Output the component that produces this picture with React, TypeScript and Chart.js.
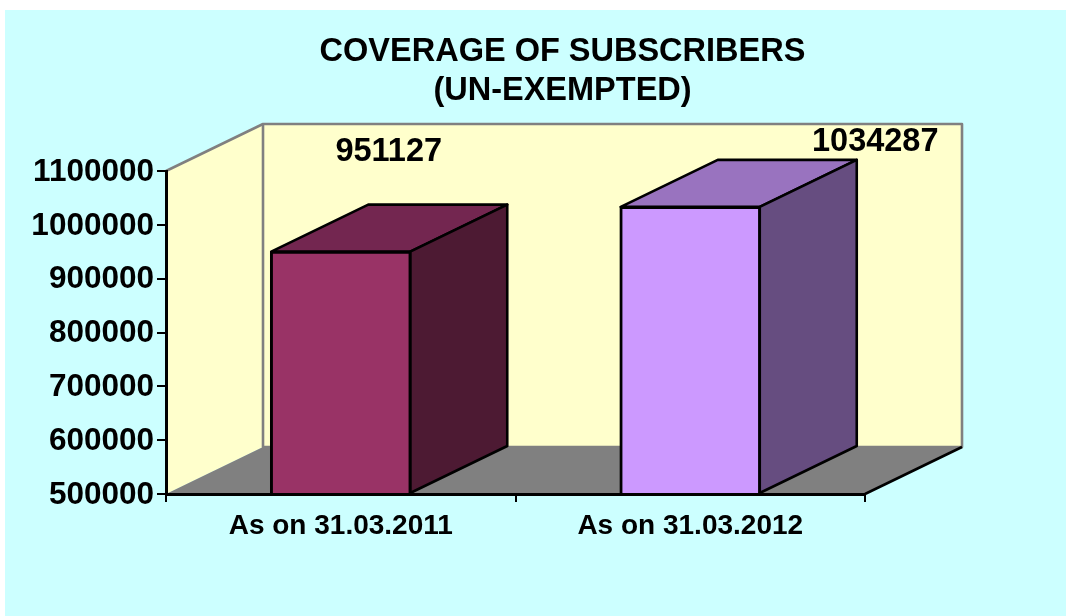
import React, { useEffect, useRef } from "react";
import { Chart, registerables } from "chart.js";

Chart.register(...registerables);

const categories = ["As on 31.03.2011", "As on 31.03.2012"];
const subscribers = [951127, 1034287];
const frontColors = ["#993366", "#CC99FF"];
const topColors = ["#732650", "#9973BF"];
const sideColors = ["#4D1A33", "#664D80"];
const titleLines = ["COVERAGE OF SUBSCRIBERS", "(UN-EXEMPTED)"];
const axisMin = 500000;
const axisMax = 1100000;
const axisStep = 100000;

const FONT = "'Liberation Sans', Arial, Helvetica, sans-serif";
const DEPTH_X = 97;
const DEPTH_Y = -47;
const WIDTH = 1066;
const HEIGHT = 616;
const CYAN = "#CCFFFF";
const WALL = "#FFFFCC";
const GREY = "#808080";
const LINE = 2.6;
// label shift from each bar's top-centre, as placed by hand in the original
const labelShiftX = [48, 185];
const labelShiftY = [-99, -64];

function poly(ctx: CanvasRenderingContext2D, pts: number[][], fill: string | null, stroke: string | null, lw = LINE) {
  ctx.beginPath();
  pts.forEach((p, i) => (i ? ctx.lineTo(p[0], p[1]) : ctx.moveTo(p[0], p[1])));
  ctx.closePath();
  if (fill) {
    ctx.fillStyle = fill;
    ctx.fill();
  }
  if (stroke) {
    ctx.strokeStyle = stroke;
    ctx.lineWidth = lw;
    ctx.lineJoin = "round";
    ctx.stroke();
  }
}

const scenePlugin = {
  id: "scene3d",
  afterLayout(chart: any) {
    // the title sits centred on the plot with its depth, not on the page
    chart.titleBlock.left = 59;
    chart.titleBlock.right = WIDTH;
  },
  beforeDraw(chart: any) {
    const { ctx, chartArea: a } = chart;
    ctx.save();
    ctx.fillStyle = CYAN;
    ctx.fillRect(5, 10, chart.width, chart.height);
    const dx = DEPTH_X;
    const dy = DEPTH_Y;
    // side wall
    poly(ctx, [[a.left, a.top], [a.left + dx, a.top + dy], [a.left + dx, a.bottom + dy], [a.left, a.bottom]], WALL, null);
    // back wall
    poly(ctx, [[a.left + dx, a.top + dy], [a.right + dx, a.top + dy], [a.right + dx, a.bottom + dy], [a.left + dx, a.bottom + dy]], WALL, GREY);
    // top edge of the side wall
    ctx.beginPath();
    ctx.moveTo(a.left, a.top);
    ctx.lineTo(a.left + dx, a.top + dy);
    ctx.strokeStyle = GREY;
    ctx.lineWidth = LINE;
    ctx.stroke();
    // floor
    poly(ctx, [[a.left, a.bottom], [a.left + dx, a.bottom + dy], [a.right + dx, a.bottom + dy], [a.right, a.bottom]], GREY, null);
    ctx.beginPath();
    ctx.moveTo(a.right, a.bottom);
    ctx.lineTo(a.right + dx, a.bottom + dy);
    ctx.strokeStyle = "#000";
    ctx.lineWidth = LINE;
    ctx.stroke();
    ctx.restore();
  },
  beforeDatasetsDraw(chart: any) {
    const { ctx } = chart;
    const meta = chart.getDatasetMeta(0);
    ctx.save();
    meta.data.forEach((bar: any, i: number) => {
      const { x, y, base, width } = bar.getProps(["x", "y", "base", "width"], true);
      const l = x - width / 2 + 1;
      const r = x + width / 2 - 1;
      const t = y + 0.5;
      const b = base;
      poly(ctx, [[l, t], [r, t], [r + DEPTH_X, t + DEPTH_Y], [l + DEPTH_X, t + DEPTH_Y]], topColors[i], "#000");
      poly(ctx, [[r, t], [r + DEPTH_X, t + DEPTH_Y], [r + DEPTH_X, b + DEPTH_Y], [r, b]], sideColors[i], "#000");
    });
    ctx.restore();
  },
  afterDatasetsDraw(chart: any) {
    const { ctx } = chart;
    const meta = chart.getDatasetMeta(0);
    ctx.save();
    ctx.font = `bold 32.5px ${FONT}`;
    ctx.fillStyle = "#000";
    ctx.textAlign = "center";
    ctx.textBaseline = "middle";
    meta.data.forEach((bar: any, i: number) => {
      ctx.fillText(String(subscribers[i]), bar.x + labelShiftX[i], bar.y + labelShiftY[i]);
    });
    ctx.restore();
  },
};

export default function App() {
  const ref = useRef<HTMLCanvasElement | null>(null);
  useEffect(() => {
    document.body.style.margin = "0";
    document.body.style.background = "#fff";
    const chart = new Chart(ref.current as HTMLCanvasElement, {
      type: "bar",
      data: {
        labels: categories,
        datasets: [
          {
            data: subscribers,
            base: axisMin,
            backgroundColor: frontColors,
            borderColor: "#000",
            borderWidth: 3,
            borderSkipped: "bottom",
            barThickness: 141,
          },
        ],
      },
      plugins: [scenePlugin],
      options: {
        animation: false,
        responsive: false,
        devicePixelRatio: 1,
        events: [],
        layout: { padding: { left: 0, top: 0, right: WIDTH - 865, bottom: 0 } },
        plugins: {
          legend: { display: false },
          tooltip: { enabled: false },
          title: {
            display: true,
            text: titleLines,
            color: "#000",
            font: { family: FONT, size: 32.5, weight: "bold", lineHeight: 39 / 32.5 },
            padding: { top: 33, bottom: 60 },
          },
        },
        scales: {
          x: {
            afterFit: (s: any) => {
              s.height = HEIGHT - 494;
            },
            border: { display: true, color: "#000", width: 3, z: 1 },
            grid: { display: true, drawOnChartArea: false, drawTicks: true, tickLength: 8, color: "#000", lineWidth: 2 },
            ticks: {
              color: "#000",
              padding: 7,
              maxRotation: 0,
              font: { family: FONT, size: 28, weight: "bold" },
            },
          },
          y: {
            min: axisMin,
            max: axisMax,
            afterFit: (s: any) => {
              s.width = 166;
            },
            border: { display: true, color: "#000", width: 3 },
            grid: { display: true, drawOnChartArea: false, drawTicks: true, tickLength: 9, color: "#000", lineWidth: 2 },
            ticks: {
              stepSize: axisStep,
              color: "#000",
              padding: 3,
              labelOffset: 1,
              font: { family: FONT, size: 31.5, weight: "bold" },
              callback: (v: any) => String(v),
            },
          },
        },
      },
    } as any);
    return () => chart.destroy();
  }, []);
  return (
    <div style={{ position: "fixed", left: 0, top: 0, width: WIDTH, height: HEIGHT, overflow: "hidden" }}>
      <canvas ref={ref} width={WIDTH} height={HEIGHT} style={{ display: "block" }} />
    </div>
  );
}
